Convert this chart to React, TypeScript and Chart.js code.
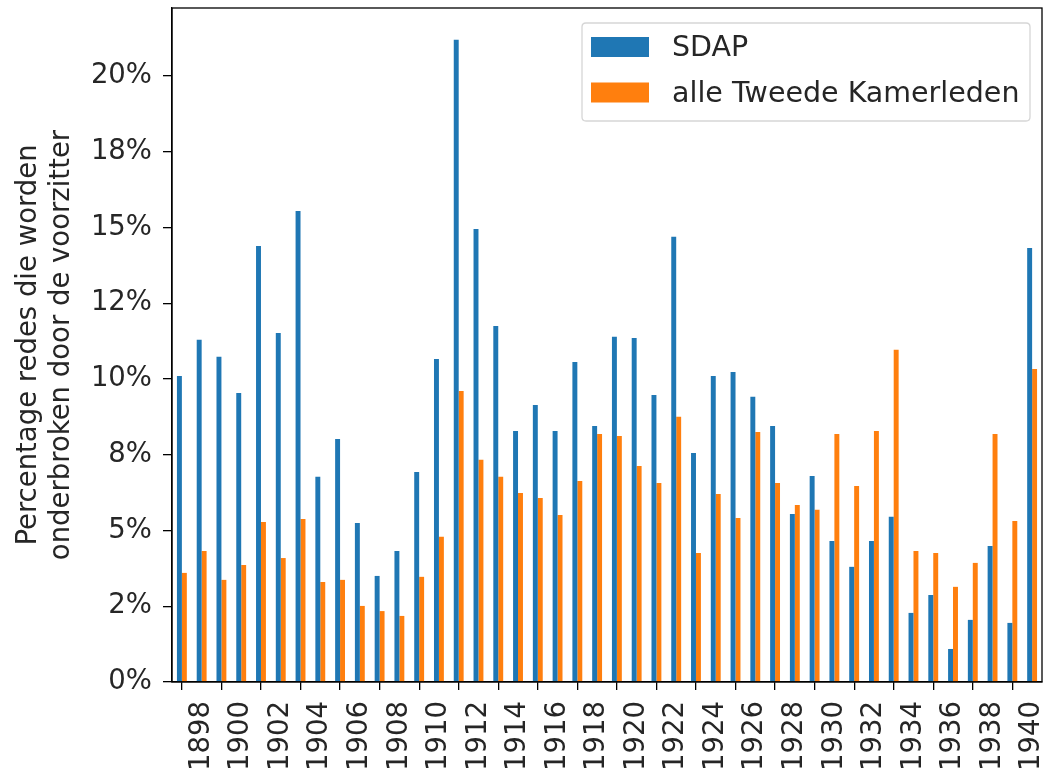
import React, { useEffect, useRef } from "react";
import { Chart, registerables } from "chart.js";

Chart.register(...registerables);

const years: string[] = [
  "1897", "1898", "1899", "1900", "1901", "1902", "1903", "1904", "1905", "1906",
  "1907", "1908", "1909", "1910", "1911", "1912", "1913", "1914", "1915", "1916",
  "1917", "1918", "1919", "1920", "1921", "1922", "1923", "1924", "1925", "1926",
  "1927", "1928", "1929", "1930", "1931", "1932", "1933", "1934", "1935", "1936",
  "1937", "1938", "1939", "1940",
];

const sdap: number[] = [
  10.1, 11.29, 10.73, 9.54, 14.39, 11.52, 15.54, 6.77, 8.02, 5.25,
  3.5, 4.32, 6.93, 10.66, 21.19, 14.95, 11.75, 8.28, 9.14, 8.28,
  10.56, 8.45, 11.39, 11.35, 9.47, 14.69, 7.56, 10.1, 10.23, 9.41,
  8.45, 5.54, 6.8, 4.65, 3.8, 4.65, 5.45, 2.28, 2.87, 1.09,
  2.05, 4.49, 1.95, 14.32,
];

const alleKamerleden: number[] = [
  3.6, 4.32, 3.37, 3.86, 5.28, 4.09, 5.38, 3.3, 3.37, 2.51,
  2.34, 2.18, 3.47, 4.79, 9.6, 7.33, 6.77, 6.24, 6.07, 5.51,
  6.63, 8.18, 8.12, 7.13, 6.57, 8.75, 4.26, 6.2, 5.41, 8.25,
  6.57, 5.84, 5.68, 8.18, 6.47, 8.28, 10.96, 4.32, 4.26, 3.14,
  3.93, 8.18, 5.31, 10.33,
];

const yTickLabels: string[] = ["0%", "2%", "5%", "8%", "10%", "12%", "15%", "18%", "20%"];
const seriesNames: string[] = ["SDAP", "alle Tweede Kamerleden"];
const seriesColors: string[] = ["#1f77b4", "#ff7f0e"];
const yTitle: string[] = ["Percentage redes die worden", "onderbroken door de voorzitter"];

const FONT = "'DejaVu Sans', sans-serif";
const FS = 27.5;
const LEGEND_FS = 28.5;

const framePlugin = {
  id: "frame",
  afterDatasetsDraw(chart: any) {
    const { ctx, chartArea: a } = chart;
    ctx.save();
    ctx.strokeStyle = "#000";
    ctx.lineWidth = 1.3;
    ctx.strokeRect(a.left, a.top, a.right - a.left, a.bottom - a.top);
    ctx.restore();
  },
};

const legendPlugin = {
  id: "innerLegend",
  afterDraw(chart: any) {
    const { ctx, chartArea: a } = chart;
    const x1 = a.right - 12;
    const x0 = x1 - 448;
    const y0 = a.top + 15;
    const h = 98;
    const r = 4;
    ctx.save();
    ctx.beginPath();
    ctx.moveTo(x0 + r, y0);
    ctx.lineTo(x1 - r, y0);
    ctx.quadraticCurveTo(x1, y0, x1, y0 + r);
    ctx.lineTo(x1, y0 + h - r);
    ctx.quadraticCurveTo(x1, y0 + h, x1 - r, y0 + h);
    ctx.lineTo(x0 + r, y0 + h);
    ctx.quadraticCurveTo(x0, y0 + h, x0, y0 + h - r);
    ctx.lineTo(x0, y0 + r);
    ctx.quadraticCurveTo(x0, y0, x0 + r, y0);
    ctx.closePath();
    ctx.fillStyle = "rgba(255,255,255,0.8)";
    ctx.fill();
    ctx.strokeStyle = "#d6d6d6";
    ctx.lineWidth = 1.3;
    ctx.stroke();
    ctx.font = `${LEGEND_FS}px ${FONT}`;
    ctx.textBaseline = "middle";
    ctx.textAlign = "left";
    seriesNames.forEach((name, i) => {
      const cy = y0 + 24 + i * 45.5;
      ctx.fillStyle = seriesColors[i];
      ctx.fillRect(x0 + 9, cy - 10, 58, 20);
      ctx.fillStyle = "#262626";
      ctx.fillText(name, x0 + 90, cy + 2);
    });
    ctx.restore();
  },
};

function zeroPadding(scale: any) {
  scale.paddingTop = 0;
  scale.paddingBottom = 0;
  scale.paddingLeft = 0;
  scale.paddingRight = 0;
}

export default function App() {
  const ref = useRef<HTMLCanvasElement | null>(null);

  useEffect(() => {
    if (!ref.current) return;
    const chart = new Chart(ref.current, {
      type: "bar",
      data: {
        labels: years,
        datasets: [
          {
            label: seriesNames[0],
            data: sdap,
            backgroundColor: seriesColors[0],
            borderWidth: 0,
            categoryPercentage: 0.5,
            barPercentage: 1.0,
          },
          {
            label: seriesNames[1],
            data: alleKamerleden,
            backgroundColor: seriesColors[1],
            borderWidth: 0,
            categoryPercentage: 0.5,
            barPercentage: 1.0,
          },
        ],
      },
      options: {
        responsive: false,
        animation: false,
        layout: { padding: { left: 12, top: 8, right: 3, bottom: 0 } },
        plugins: {
          legend: { display: false },
          tooltip: { enabled: false },
        },
        scales: {
          x: {
            type: "category",
            offset: true,
            grid: {
              display: true,
              drawOnChartArea: false,
              drawTicks: true,
              tickLength: 8,
              color: "#000",
              lineWidth: 1.3,
            },
            border: { display: true, color: "#000", width: 1.3 },
            ticks: {
              autoSkip: false,
              maxRotation: 90,
              minRotation: 90,
              padding: 11,
              color: "#262626",
              font: { family: FONT, size: FS },
              callback: function (this: any, value: any, index: number) {
                const lbl = years[index];
                return parseInt(lbl, 10) % 2 === 0 ? lbl : null;
              },
            },
            afterFit(scale: any) {
              scale.height = 89;
              zeroPadding(scale);
            },
          },
          y: {
            min: 0,
            max: 22.24,
            grid: {
              display: true,
              drawOnChartArea: false,
              drawTicks: true,
              tickLength: 9,
              color: "#000",
              lineWidth: 1.3,
            },
            border: { display: true, color: "#000", width: 1.3 },
            title: {
              display: true,
              text: yTitle,
              color: "#262626",
              font: { family: FONT, size: FS, lineHeight: 1.2 },
              padding: { top: 0, bottom: 0 },
            },
            ticks: {
              stepSize: 2.5,
              includeBounds: false,
              padding: 11,
              color: "#262626",
              font: { family: FONT, size: FS },
              callback: (value: any) => {
                const idx = Math.round(Number(value) / 2.5);
                return yTickLabels[idx] ?? "";
              },
            },
            afterFit(scale: any) {
              scale.width = 160;
              zeroPadding(scale);
            },
          },
        },
      },
      plugins: [framePlugin, legendPlugin],
    });
    return () => chart.destroy();
  }, []);

  return (
    <div style={{ position: "absolute", left: 0, top: 0, width: 1045, height: 771, background: "#fff" }}>
      <canvas ref={ref} width={1045} height={771} style={{ display: "block" }} />
    </div>
  );
}
